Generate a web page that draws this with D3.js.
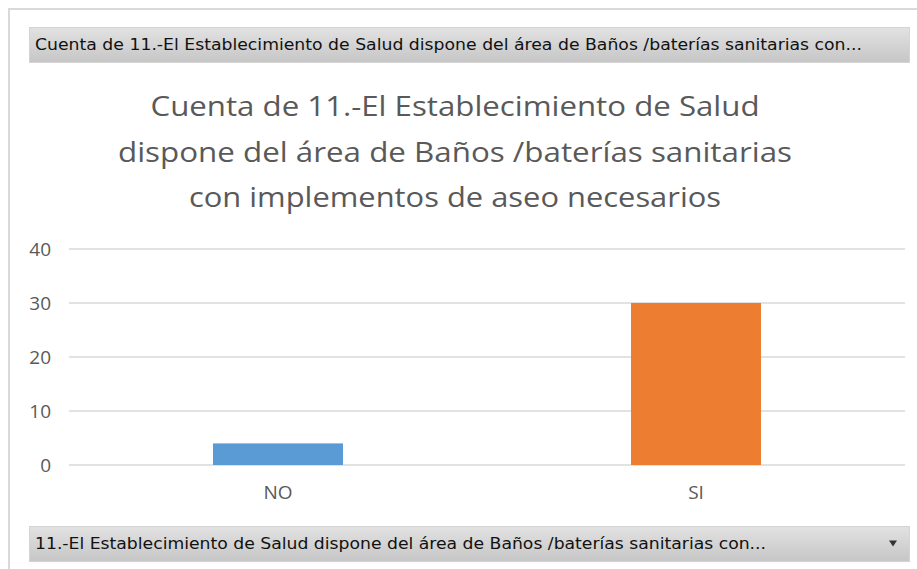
<!DOCTYPE html>
<html>
<head>
<meta charset="utf-8">
<script src="https://cdn.jsdelivr.net/npm/d3@7"></script>
<style>
  html, body { margin: 0; padding: 0; background: #fff; }
  svg { display: block; }
</style>
</head>
<body>
<div id="chart"></div>
<script>
const width = 917, height = 569;

// data
const categories = ["NO", "SI"];
const counts = [4, 30];
const barColors = ["#5b9bd5", "#ed7d31"];
const yTicks = [0, 10, 20, 30, 40];
const titleLines = [
    "Cuenta de 11.-El Establecimiento de Salud",
    "dispone del área de Baños /baterías sanitarias",
    "con implementos de aseo necesarios"
];
const valueFieldLabel = "Cuenta de 11.-El Establecimiento de Salud dispone del área de Baños /baterías sanitarias con...";
const axisFieldLabel = "11.-El Establecimiento de Salud dispone del área de Baños /baterías sanitarias con...";

const svg = d3.select("#chart").append("svg")
    .attr("width", width)
    .attr("height", height);

const defs = svg.append("defs");
const grad = defs.append("linearGradient")
    .attr("id", "btnGrad")
    .attr("x1", 0).attr("y1", 0).attr("x2", 0).attr("y2", 1);
grad.append("stop").attr("offset", "0%").attr("stop-color", "#e2e2e2");
grad.append("stop").attr("offset", "100%").attr("stop-color", "#c6c6c6");

// outer chart border
svg.append("rect")
    .attr("x", 9).attr("y", 9)
    .attr("width", width + 20).attr("height", height + 20)
    .attr("fill", "#fff")
    .attr("stroke", "#d9d9d9")
    .attr("stroke-width", 2);

// field buttons
function fieldButton(y, h, w, label, textW, arrow) {
    const g = svg.append("g");
    g.append("rect")
        .attr("x", 29.5).attr("y", y + 0.5)
        .attr("width", w).attr("height", h)
        .attr("fill", "url(#btnGrad)")
        .attr("stroke", "#d4d4d4");
    g.append("text")
        .attr("x", 35)
        .attr("y", y + h / 2 + 5.5)
        .attr("font-family", "DejaVu Sans Condensed, DejaVu Sans")
        .attr("font-size", 15)
        .attr("fill", "#111")
        .attr("textLength", textW)
        .attr("lengthAdjust", "spacingAndGlyphs")
        .text(label);
    if (arrow) {
        const cx = 893, cy = y + h / 2;
        g.append("path")
            .attr("d", `M${cx - 4},${cy - 3} L${cx + 4},${cy - 3} L${cx},${cy + 3} Z`)
            .attr("fill", "#333");
    }
}
fieldButton(27, 35, 880, valueFieldLabel, 827, false);
fieldButton(526, 35, 880, axisFieldLabel, 731, true);

// title
const title = svg.append("text")
    .attr("text-anchor", "middle")
    .attr("font-family", "Open Sans, Lato, sans-serif")
    .attr("font-size", 27)
    .attr("fill", "#595959");
const titleWidths = [609, 674, 532];
titleLines.forEach((t, i) => {
    title.append("tspan")
        .attr("x", 455)
        .attr("y", 116 + i * 45.5)
        .attr("textLength", titleWidths[i])
        .attr("lengthAdjust", "spacingAndGlyphs")
        .text(t);
});

// plot
const plot = { left: 69, right: 905, top: 249, bottom: 465 };

const x = d3.scaleBand()
    .domain(categories)
    .range([plot.left, plot.right])
    .paddingInner(0.689)
    .paddingOuter(0.3445);

const y = d3.scaleLinear()
    .domain([0, 40])
    .range([plot.bottom, plot.top]);

// gridlines
svg.append("g")
    .selectAll("line")
    .data(yTicks)
    .join("line")
    .attr("x1", plot.left)
    .attr("x2", plot.right)
    .attr("y1", d => y(d))
    .attr("y2", d => y(d))
    .attr("stroke", "#d9d9d9")
    .attr("stroke-width", 1.5);

// y axis
const yAxis = svg.append("g")
    .attr("transform", `translate(${plot.left - 18},0)`)
    .call(d3.axisLeft(y).tickValues(yTicks).tickSize(0).tickPadding(0));
yAxis.select(".domain").remove();
yAxis.selectAll("text")
    .attr("font-family", "Open Sans, Lato, sans-serif")
    .attr("font-size", 19)
    .attr("fill", "#595959");

// bars
svg.append("g")
    .selectAll("rect")
    .data(categories.map((c, i) => ({ cat: c, value: counts[i], color: barColors[i] })))
    .join("rect")
    .attr("x", d => x(d.cat))
    .attr("y", d => y(d.value))
    .attr("width", x.bandwidth())
    .attr("height", d => y(0) - y(d.value))
    .attr("fill", d => d.color);

// x axis
const xAxis = svg.append("g")
    .attr("transform", `translate(0,${plot.bottom + 20})`)
    .call(d3.axisBottom(x).tickSize(0).tickPadding(0));
xAxis.select(".domain").remove();
xAxis.selectAll("text")
    .attr("font-family", "Open Sans, Lato, sans-serif")
    .attr("font-size", 19)
    .attr("fill", "#595959");
</script>
</body>
</html>
